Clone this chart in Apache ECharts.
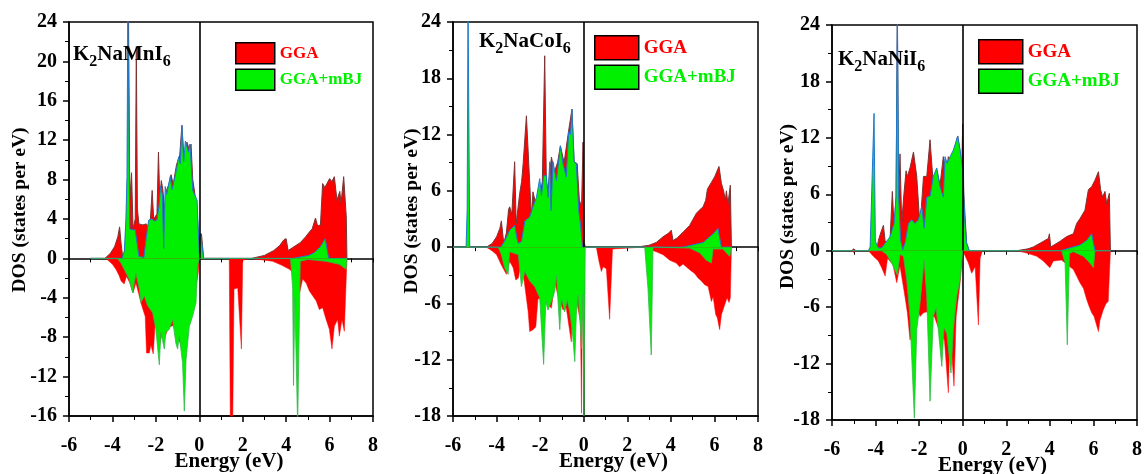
<!DOCTYPE html>
<html><head><meta charset="utf-8">
<script src="https://cdn.jsdelivr.net/npm/echarts@6/dist/echarts.min.js"></script>
<style>html,body{margin:0;padding:0;background:#fff}#c{width:1145px;height:474px}</style>
</head><body><div id="c"></div>
<script>
// ---------------- DATA ----------------
const xRange = [-6, 8, 2];                 // energy axis min, max, interval
const yMins = [-16, -18, -18];
const yMaxs = [24, 24, 24];
const yIntervals = [4, 6, 6];
const seriesNames = ['GGA', 'GGA+mBJ'];
const compoundLabels = ['{a|K}{s|2}{a|NaMnI}{s|6}', '{a|K}{s|2}{a|NaCoI}{s|6}', '{a|K}{s|2}{a|NaNiI}{s|6}'];
const xTitle = 'Energy (eV)';
const yTitle = 'DOS (states per eV)';

// K2NaMnI6
const mnGgaUp = [[-5.0,0],[-4.35,0],[-4.1,0.5],[-3.9,1.2],[-3.75,2.2],[-3.67,3.2],[-3.6,1.5],[-3.52,0],[-3.45,0.5],[-3.35,3],[-3.3,8.8],[-3.26,25],[-3.2,6],[-3.12,8.7],[-3.05,3],[-2.95,4],[-2.9,21.5],[-2.85,5],[-2.78,3.5],[-2.6,3.4],[-2.45,3.5],[-2.35,3.3],[-2.25,4],[-2.17,6.9],[-2.1,4],[-1.95,4.5],[-1.88,10.8],[-1.82,6],[-1.75,7.9],[-1.68,7],[-1.6,5],[-1.5,7],[-1.4,7.5],[-1.3,8.5],[-1.2,7.5],[-1.05,9.5],[-0.9,10.5],[-0.8,13.5],[-0.7,10],[-0.57,11.8],[-0.45,11],[-0.38,11.6],[-0.3,8],[-0.2,6.5],[-0.1,4.5],[-0.05,3],[0,2],[0.1,2.5],[0.2,0],[2.4,0],[3.0,0.3],[3.43,0.8],[3.7,1.3],[3.9,1.9],[4.0,2.0],[4.09,0.8],[4.3,1.1],[4.65,1.6],[4.9,2.2],[5.04,2.6],[5.2,3.0],[5.35,4.1],[5.45,3.3],[5.58,3.4],[5.68,7.6],[5.78,7.2],[5.88,7.6],[6.0,8.1],[6.11,7.8],[6.22,8.3],[6.34,5.9],[6.47,6.8],[6.53,5.6],[6.65,8.3],[6.77,4.2],[6.8,0]];
const mnGgaDn = [[-5.0,0],[-4.3,0],[-4.0,-0.6],[-3.84,-1.1],[-3.7,-1.7],[-3.6,-2.3],[-3.46,-2.6],[-3.35,-1.8],[-3.2,-2.5],[-3.05,-3.5],[-2.92,-2.5],[-2.8,-3.5],[-2.69,-4.5],[-2.55,-5.5],[-2.49,-5.9],[-2.43,-9.6],[-2.3,-9.6],[-2.23,-8.8],[-2.12,-9.7],[-2.03,-6.5],[-1.84,-8.9],[-1.7,-7.5],[-1.6,-8],[-1.4,-7],[-1.2,-6.8],[-1.0,-8],[-0.8,-9],[-0.6,-7.6],[-0.45,-6.5],[-0.3,-5],[-0.15,-2.9],[-0.05,-1.5],[0,0],[1.38,0],[1.43,-17],[1.54,-17],[1.6,-3.1],[1.77,-3.0],[1.86,-3.2],[1.94,-9.2],[2.0,-0.2],[2.05,0],[2.3,0],[2.9,-0.15],[3.38,-0.3],[3.8,-0.7],[4.15,-1.1],[4.3,-1.4],[4.5,-1.7],[4.62,-3.5],[4.76,-2.1],[4.92,-2.5],[5.07,-3.3],[5.22,-3.8],[5.38,-4.3],[5.53,-5.2],[5.68,-5.0],[5.84,-6.2],[5.99,-7.2],[6.11,-9.2],[6.22,-6.9],[6.37,-6.2],[6.45,-7.9],[6.57,-6.2],[6.68,-7.4],[6.76,-7.2],[6.8,0]];
const mnMbjUp = [[-5.0,0],[-3.55,0],[-3.45,0.8],[-3.38,4],[-3.33,8.3],[-3.29,26],[-3.24,26],[-3.2,3],[-3.1,2.9],[-2.95,2.9],[-2.87,2.8],[-2.78,0.2],[-2.55,0.1],[-2.45,2],[-2.33,3.9],[-2.2,4.0],[-2.05,3.8],[-1.95,3.9],[-1.85,5.4],[-1.78,7.3],[-1.7,6.5],[-1.64,1.0],[-1.57,7.3],[-1.5,6.5],[-1.41,6.3],[-1.34,8.3],[-1.25,7],[-1.18,6.8],[-1.1,8.5],[-1.03,9.3],[-0.95,10.3],[-0.88,9.6],[-0.8,13.5],[-0.72,9.8],[-0.64,11.9],[-0.57,11.8],[-0.5,10.8],[-0.43,11.6],[-0.38,11.6],[-0.3,6.9],[-0.18,6.3],[-0.1,5.9],[-0.03,2],[0,0.5],[0.05,2.5],[0.12,1.5],[0.2,0],[4.3,0],[5.04,0.3],[5.3,0.6],[5.58,1.2],[5.8,2.0],[5.88,2.2],[5.96,0],[6.8,0]];
const mnMbjDn = [[-5.0,0],[-3.76,0],[-3.6,-0.5],[-3.46,-1.1],[-3.23,-2.1],[-3.07,-3.5],[-2.92,-1.5],[-2.76,-3.1],[-2.69,-4.5],[-2.53,-3.8],[-2.38,-4.8],[-2.15,-5.5],[-2.0,-7.2],[-1.84,-10.8],[-1.77,-7.5],[-1.61,-9.2],[-1.54,-7.5],[-1.38,-7.2],[-1.23,-6.2],[-1.08,-8.6],[-1.0,-9.2],[-0.92,-7.9],[-0.77,-10.6],[-0.69,-15.5],[-0.61,-10.3],[-0.46,-6.9],[-0.31,-5.9],[-0.15,-4.5],[-0.08,-0.8],[0,0],[4.2,0],[4.3,-3],[4.34,-12.9],[4.4,-4],[4.48,-4.2],[4.53,-17],[4.6,-17],[4.65,-0.3],[5.0,-0.1],[5.84,-0.3],[6.45,-0.6],[6.76,-1.1],[6.8,0]];

// K2NaCoI6
const coGgaUp = [[-6,0],[-4.47,0],[-4.2,0.4],[-4.0,1.1],[-3.85,2.0],[-3.78,2.8],[-3.67,0.4],[-3.55,1.5],[-3.45,4.0],[-3.4,4.3],[-3.3,3.5],[-3.17,9.1],[-3.1,2.5],[-2.94,5.7],[-2.85,7],[-2.78,8.9],[-2.63,14.0],[-2.5,7.8],[-2.4,3.2],[-2.33,5.9],[-2.2,4.6],[-2.02,5.3],[-1.9,7],[-1.79,20.4],[-1.71,6.0],[-1.6,7],[-1.48,9.6],[-1.35,8],[-1.2,9],[-1.07,10.8],[-0.9,9],[-0.7,12.3],[-0.54,14.7],[-0.44,9.1],[-0.3,8.9],[-0.2,5],[-0.1,4.3],[-0.03,11.2],[0.02,0.5],[0.08,0],[2.42,0],[3.0,0.2],[3.33,0.5],[3.64,1.1],[3.9,1.5],[4.02,1.8],[4.1,0.7],[4.3,1.0],[4.56,1.6],[4.86,2.3],[5.17,3.6],[5.29,3.9],[5.48,4.3],[5.6,5.0],[5.68,6.2],[5.86,6.9],[6.01,7.5],[6.21,8.6],[6.32,6.8],[6.42,6.0],[6.5,5.0],[6.55,6.0],[6.62,4.6],[6.73,6.6],[6.78,0]];
const coGgaDn = [[-6,0],[-4.47,0],[-4.2,-0.4],[-4.0,-0.8],[-3.78,-1.9],[-3.55,-2.9],[-3.4,-1.5],[-3.24,-2.2],[-3.12,-3.5],[-3.0,-3.3],[-2.86,-1.5],[-2.7,-4.2],[-2.55,-6.9],[-2.48,-9.0],[-2.33,-8.8],[-2.2,-8.5],[-2.1,-5.5],[-1.9,-5.5],[-1.7,-6],[-1.48,-6.5],[-1.41,-6.7],[-1.33,-3.7],[-1.2,-5],[-0.95,-6.7],[-0.8,-6.5],[-0.57,-10.1],[-0.5,-6],[-0.3,-6],[-0.15,-8],[-0.1,-17.7],[-0.05,-3],[0,0],[0.58,0],[0.7,-1.5],[0.81,-2.6],[0.89,-2.1],[1.04,-2.3],[1.19,-7.7],[1.32,-0.2],[1.35,0],[2.72,0],[3.33,-0.5],[3.64,-0.8],[3.95,-1.4],[4.25,-1.7],[4.4,-2.1],[4.56,-1.8],[4.86,-2.4],[5.09,-2.8],[5.25,-3.3],[5.4,-3.6],[5.55,-4.0],[5.71,-4.2],[5.86,-5.8],[5.94,-5.3],[6.06,-7.2],[6.13,-7.5],[6.24,-8.8],[6.32,-7.2],[6.48,-6.1],[6.58,-5.4],[6.67,-5.9],[6.73,-5.4],[6.78,0]];
const coMbjUp = [[-6,0],[-5.4,0],[-5.35,4],[-5.31,26],[-5.27,26],[-5.23,0],[-3.8,0],[-3.6,0.8],[-3.4,1.8],[-3.17,2.3],[-3.05,0.8],[-3.0,0.4],[-2.86,0.6],[-2.7,2.8],[-2.63,3.0],[-2.48,3.2],[-2.33,4.3],[-2.17,5.3],[-2.02,7.3],[-1.94,5.5],[-1.84,7.6],[-1.71,7.6],[-1.64,5.3],[-1.56,9.1],[-1.5,3.9],[-1.41,9.1],[-1.25,7.1],[-1.07,10.8],[-0.95,8.9],[-0.8,7.5],[-0.69,12.3],[-0.61,12.0],[-0.54,14.7],[-0.44,9.1],[-0.34,8.9],[-0.23,3.9],[-0.15,2.5],[-0.06,0],[4.56,0],[5.48,0.5],[5.93,1.4],[6.16,2.0],[6.24,1.9],[6.32,0],[6.8,0]];
const coMbjDn = [[-6,0],[-3.93,0],[-3.78,-0.8],[-3.63,-2.2],[-3.47,-2.9],[-3.4,-0.5],[-3.0,-0.8],[-2.86,-4.2],[-2.7,-2.6],[-2.48,-3.6],[-2.25,-4.2],[-2.02,-5.4],[-1.84,-12.5],[-1.74,-5.8],[-1.64,-6.7],[-1.48,-5.8],[-1.33,-4.7],[-1.25,-3],[-1.1,-8.8],[-1.02,-5.5],[-0.87,-6.9],[-0.76,-5.6],[-0.64,-6.9],[-0.52,-9.0],[-0.41,-12.2],[-0.34,-7.2],[-0.26,-5.1],[-0.15,-8.6],[-0.1,-10.8],[-0.04,-5],[0.01,-18],[0.04,-18],[0.07,0],[2.8,0],[2.95,-4.4],[3.1,-11.5],[3.18,0],[4.86,-0.1],[5.32,-0.6],[5.63,-1.4],[5.86,-1.7],[5.94,-0.2],[6.39,-0.2],[6.7,-1.0],[6.78,0]];

// K2NaNiI6
const niGgaUp = [[-6,0],[-5.1,0],[-5.0,0.2],[-4.9,0],[-3.95,0],[-3.87,1.1],[-3.75,2],[-3.64,2.7],[-3.56,1.0],[-3.4,0.8],[-3.33,1.5],[-3.23,6.3],[-3.15,2.5],[-3.06,5.7],[-3.0,25],[-2.94,5],[-2.88,10.3],[-2.8,3],[-2.7,6],[-2.6,8.5],[-2.54,7.9],[-2.42,8.8],[-2.26,10.5],[-2.11,7.9],[-1.96,2.5],[-1.8,7.9],[-1.65,7.9],[-1.5,11.8],[-1.35,7],[-1.2,8.6],[-1.04,7],[-0.89,10.0],[-0.75,8.3],[-0.66,10.0],[-0.5,9.6],[-0.35,11],[-0.23,12.2],[-0.12,10.5],[-0.05,8],[0,13.5],[0.05,6],[0.18,0.8],[0.3,0],[2.48,0],[3.0,0.2],[3.24,0.4],[3.55,0.8],[3.93,1.3],[3.98,1.8],[4.04,0.4],[4.47,1.0],[4.77,1.5],[5.08,1.8],[5.23,2.9],[5.38,3.4],[5.61,4.3],[5.77,6.5],[5.92,6.8],[6.07,7.5],[6.23,8.4],[6.33,6.5],[6.42,5.7],[6.53,6.3],[6.61,5.0],[6.73,6.1],[6.78,0]];
const niGgaDn = [[-6,0],[-5.1,0],[-5.0,-0.2],[-4.9,0],[-4.33,0],[-4.1,-0.6],[-3.87,-1.1],[-3.72,-1.8],[-3.56,-2.7],[-3.45,-0.8],[-3.2,-1.5],[-3.03,-3.4],[-2.88,-1.6],[-2.65,-4.9],[-2.54,-6.6],[-2.42,-9.5],[-2.26,-8.4],[-2.11,-5.9],[-1.96,-7.0],[-1.8,-6.6],[-1.65,-6.5],[-1.5,-7],[-1.3,-7],[-1.0,-9],[-0.84,-9.5],[-0.66,-15.1],[-0.58,-8.4],[-0.4,-14.4],[-0.3,-7],[-0.12,-3.4],[0,0],[0.06,-0.3],[0.26,-1.3],[0.41,-2.4],[0.57,-1.7],[0.72,-7.9],[0.8,-0.8],[0.9,0],[2.48,0],[2.94,-0.25],[3.4,-0.6],[3.7,-1.1],[4.0,-1.8],[4.16,-1.1],[4.54,-1.0],[4.8,-1.5],[5.08,-2.0],[5.23,-2.7],[5.38,-3.4],[5.54,-4.0],[5.69,-5.2],[5.8,-5.9],[5.92,-6.6],[6.03,-7.0],[6.23,-8.6],[6.3,-7.4],[6.45,-6.3],[6.58,-5.6],[6.68,-5.4],[6.78,0]];
const niMbjUp = [[-6,0],[-4.33,0],[-4.25,0.4],[-4.13,10],[-4.07,14.6],[-4.01,1],[-3.87,0.3],[-3.72,0.3],[-3.56,0.8],[-3.33,1.5],[-3.15,2.9],[-3.06,5.7],[-3.0,26],[-2.94,5.7],[-2.85,1.1],[-2.75,0.1],[-2.65,0.8],[-2.49,2.9],[-2.34,3.3],[-2.19,2.9],[-2.03,3.3],[-1.88,4.7],[-1.77,2.4],[-1.65,5.7],[-1.5,5.8],[-1.35,7.9],[-1.19,8.8],[-1.04,6.8],[-0.89,5.7],[-0.81,10.0],[-0.72,9.3],[-0.58,10.0],[-0.43,10.7],[-0.23,12.2],[-0.12,10.7],[0,8.6],[0.1,3],[0.18,0.8],[0.3,0],[4.47,0],[5.38,0.6],[5.69,1.1],[5.92,1.8],[6.0,1.7],[6.07,0],[6.8,0]];
const niMbjDn = [[-6,0],[-3.72,0],[-3.49,-0.4],[-3.26,-1.3],[-3.0,-2.6],[-2.88,-0.4],[-2.72,-0.6],[-2.57,-3.1],[-2.42,-7.0],[-2.22,-17.8],[-2.11,-8.4],[-1.96,-5.6],[-1.77,-1.0],[-1.65,-4.9],[-1.5,-16.0],[-1.35,-7.0],[-1.22,-6.1],[-1.12,-8.4],[-0.96,-12.3],[-0.86,-8.2],[-0.73,-8.8],[-0.54,-13.0],[-0.43,-8.4],[-0.28,-4.9],[-0.12,-3.1],[0,0],[4.54,0],[4.7,-1.3],[4.8,-10.0],[4.9,-0.3],[5.08,-0.1],[5.54,-0.6],[5.84,-1.3],[6.0,-1.8],[6.07,0],[6.8,0]];

const panelData = [
  [mnGgaUp, mnGgaDn, mnMbjUp, mnMbjDn],
  [coGgaUp, coGgaDn, coMbjUp, coMbjDn],
  [niGgaUp, niGgaDn, niMbjUp, niMbjDn]
];

// ---------------- LAYOUT / STYLE ----------------
const FONT = '"Liberation Serif", "Times New Roman", serif';
const RED = '#ff0000', GREEN = '#00f000';
const grids = [
  {left: 69, top: 22, width: 304, height: 394},
  {left: 453, top: 22, width: 305, height: 394},
  {left: 832, top: 25, width: 305, height: 395}
];
const yNameGaps = [39, 31, 34];
const yNameShift = [18, 16, 32];
const titlePos = [[73, 40], [479, 27], [838, 45]];
const legendPos = [
  {left: 235, top: 42, w: 39, h: 21, fs: 17},
  {left: 594, top: 35, w: 44, h: 24, fs: 19},
  {left: 978, top: 39, w: 44, h: 24, fs: 19}
];
const styles = [
  {fill: RED, line: '#7a3434', lw: 1},
  {fill: RED, line: RED, lw: 0.5},
  {fill: GREEN, line: '#1f78d0', lw: 1},
  {fill: GREEN, line: '#33b84a', lw: 0.8}
];

const blk = {color: '#000', width: 1.5};
const option = {animation: false, grid: [], xAxis: [], yAxis: [], series: [], title: [], legend: []};

for (let p = 0; p < 3; p++) {
  option.grid.push(Object.assign({show: true, borderColor: '#000', borderWidth: 1.5, backgroundColor: '#fff',
    containLabel: false, outerBoundsMode: 'none'}, grids[p]));
  option.xAxis.push({
    gridIndex: p, type: 'value', min: xRange[0], max: xRange[1], interval: xRange[2], position: 'bottom',
    axisLine: {onZero: false, lineStyle: blk},
    axisTick: {length: 6, lineStyle: blk},
    minorTick: {show: true, splitNumber: 2, length: 4, lineStyle: {color: '#000', width: 1}},
    splitLine: {show: false}, minorSplitLine: {show: false},
    axisLabel: {color: '#000', fontFamily: FONT, fontWeight: 'bold', fontSize: 20, margin: 20},
    name: xTitle, nameLocation: 'middle', nameGap: 35, nameMoveOverlap: false,
    nameTextStyle: {color: '#000', fontFamily: FONT, fontWeight: 'bold', fontSize: 21, padding: [0, 0, 0, 16]}
  });
  option.xAxis.push({
    gridIndex: p, type: 'value', min: xRange[0], max: xRange[1], interval: 1, position: 'bottom',
    axisLine: {onZero: true, lineStyle: blk},
    axisTick: {length: 4, lineStyle: {color: '#000', width: 1}},
    axisLabel: {show: false}, splitLine: {show: false}
  });
  option.yAxis.push({
    gridIndex: p, type: 'value', min: yMins[p], max: yMaxs[p], interval: yIntervals[p],
    axisLine: {show: true, onZero: false, lineStyle: blk},
    axisTick: {show: true, length: 6, lineStyle: blk},
    minorTick: {show: true, splitNumber: 2, length: 4, lineStyle: {color: '#000', width: 1}},
    splitLine: {show: false}, minorSplitLine: {show: false},
    axisLabel: {color: '#000', fontFamily: FONT, fontWeight: 'bold', fontSize: 20, margin: 12},
    name: yTitle, nameLocation: 'middle', nameGap: yNameGaps[p], nameMoveOverlap: false,
    nameTextStyle: {color: '#000', fontFamily: FONT, fontWeight: 'bold', fontSize: 19.5, padding: [0, 0, 0, yNameShift[p]]}
  });
  option.title.push({
    text: compoundLabels[p], left: titlePos[p][0], top: titlePos[p][1], padding: 0,
    textStyle: {rich: {
      a: {fontFamily: FONT, fontWeight: 'bold', fontSize: 21, color: '#000', lineHeight: 30, verticalAlign: 'middle'},
      s: {fontFamily: FONT, fontWeight: 'bold', fontSize: 16, color: '#000', lineHeight: 16, verticalAlign: 'bottom'}
    }}
  });
  const L = legendPos[p];
  option.legend.push({
    left: L.left, top: L.top, orient: 'vertical', itemWidth: L.w, itemHeight: L.h, itemGap: 4, padding: 0,
    icon: 'rect', selectedMode: false,
    textStyle: {fontFamily: FONT, fontWeight: 'bold', fontSize: L.fs},
    data: [
      {name: seriesNames[0], icon: 'rect', itemStyle: {color: RED, borderColor: '#000', borderWidth: 1.5}, textStyle: {color: RED}},
      {name: seriesNames[1], icon: 'rect', itemStyle: {color: GREEN, borderColor: '#000', borderWidth: 1.5}, textStyle: {color: GREEN}}
    ]
  });
  panelData[p].forEach((arr, k) => {
    const st = styles[k];
    const s = {
      type: 'line', name: seriesNames[k < 2 ? 0 : 1], xAxisIndex: 2 * p, yAxisIndex: p,
      data: arr, showSymbol: false, symbol: 'none', z: 2 + k,
      lineStyle: {color: st.line, width: st.lw},
      itemStyle: {color: st.fill},
      areaStyle: {color: st.fill, opacity: 1}
    };
    if (k === 3) {
      s.markLine = {silent: true, symbol: 'none', label: {show: false},
        lineStyle: {color: '#000', type: 'solid', width: 1.6, opacity: 1}, data: [{xAxis: 0}]};
    }
    option.series.push(s);
  });
}

const chart = echarts.init(document.getElementById('c'), null, {renderer: 'canvas'});
chart.setOption(option);
</script>
</body></html>
